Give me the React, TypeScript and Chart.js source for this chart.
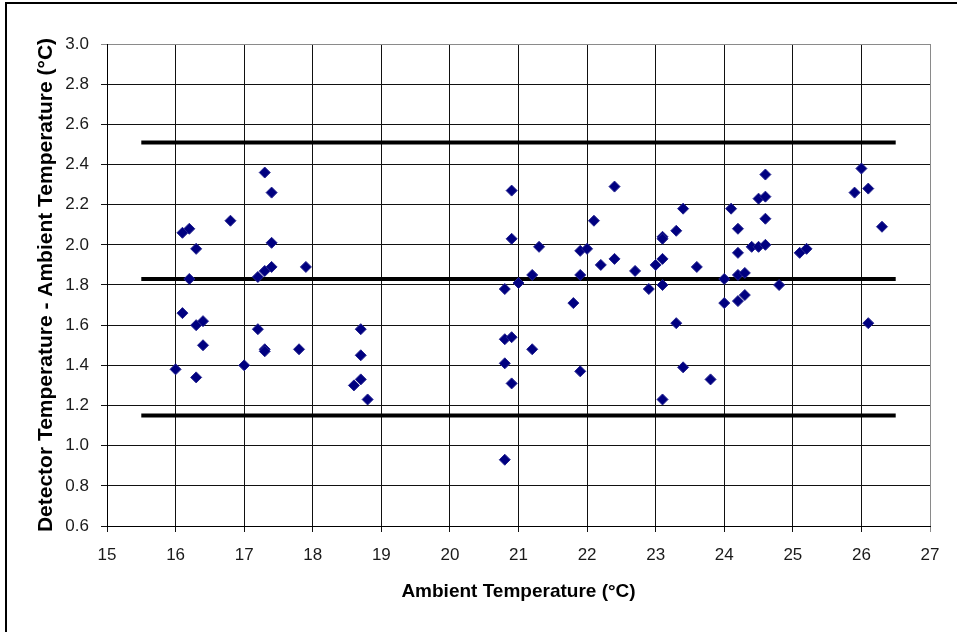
import React, { useEffect, useRef } from "react";
import { Chart, registerables } from "chart.js";

Chart.register(...registerables);

// Ambient temperature (°C) of each measurement
const ambientTemps: number[] = [
  16.0, 16.1, 16.1, 16.2, 16.2, 16.3, 16.3, 16.3, 16.4, 16.4, 16.8, 17.0, 17.2, 17.2,
  17.3, 17.3, 17.3, 17.3, 17.4, 17.4, 17.4, 17.8, 17.9,
  18.7, 18.7, 18.7, 18.6, 18.8,
  20.9, 22.4, 22.1, 20.9, 21.3, 21.9, 22.0, 22.4, 22.2, 22.7, 21.2, 21.9, 21.0, 20.8,
  22.9, 21.8, 20.8, 20.9, 21.2, 20.8, 20.9, 21.9, 20.8,
  23.0, 23.1, 23.1, 23.1, 23.1, 23.1, 23.3, 23.3, 23.4, 23.4, 23.6, 23.8, 24.0, 24.0,
  24.1, 24.2, 24.2, 24.2, 24.2, 24.3, 24.3, 24.4, 24.5, 24.5, 24.6, 24.6, 24.6, 24.6,
  24.8, 25.1, 25.2, 25.9, 26.0, 26.1, 26.1, 26.3,
];

// Detector minus ambient temperature (°C) of each measurement
const tempDiffs: number[] = [
  1.38, 2.06, 1.66, 2.08, 1.83, 1.98, 1.6, 1.34, 1.62, 1.5, 2.12, 1.4, 1.84, 1.58,
  2.36, 1.87, 1.48, 1.47, 2.26, 2.01, 1.89, 1.48, 1.89,
  1.58, 1.45, 1.33, 1.3, 1.23,
  2.27, 2.29, 2.12, 2.03, 1.99, 1.97, 1.98, 1.93, 1.9, 1.87, 1.85, 1.85, 1.81, 1.78,
  1.78, 1.71, 1.53, 1.54, 1.48, 1.41, 1.31, 1.37, 0.93,
  1.9, 2.04, 2.03, 1.93, 1.8, 1.23, 2.07, 1.61, 2.18, 1.39, 1.89, 1.33, 1.83, 1.71,
  2.18, 2.08, 1.96, 1.85, 1.72, 1.86, 1.75, 1.99, 1.99, 2.23, 2.24, 2.35, 2.13, 2.0,
  1.8, 1.96, 1.98, 2.26, 2.38, 2.28, 1.61, 2.09,
];

// Horizontal limit lines
const limitLineX: number[] = [15.5, 26.5];
const upperLimit = 2.51;
const meanLevel = 1.83;
const lowerLimit = 1.15;

// Axis ranges / ticks
const xTicks: number[] = [15, 16, 17, 18, 19, 20, 21, 22, 23, 24, 25, 26, 27];
const yTicks: number[] = [0.6, 0.8, 1.0, 1.2, 1.4, 1.6, 1.8, 2.0, 2.2, 2.4, 2.6, 2.8, 3.0];

const FONT = "'Liberation Sans', Arial, sans-serif";

export default function App() {
  const ref = useRef<HTMLCanvasElement | null>(null);

  useEffect(() => {
    document.body.style.margin = "0";
    const canvas = ref.current;
    if (!canvas) return;

    const points = ambientTemps.map((x, i) => ({ x, y: tempDiffs[i] }));
    const line = (v: number) => limitLineX.map((x) => ({ x, y: v }));

    const framePlugin = {
      id: "frame",
      beforeDraw(chart: any) {
        const c = chart.ctx;
        c.save();
        c.fillStyle = "#ffffff";
        c.fillRect(0, 0, chart.width, chart.height);
        c.fillStyle = "#000000";
        c.fillRect(5, 2, 2, chart.height - 2);
        c.fillRect(5, 2, chart.width - 5, 2);
        c.restore();
      },
    };

    const limitDs = (v: number) => ({
      data: line(v),
      showLine: true,
      borderColor: "#000000",
      borderWidth: 4,
      pointRadius: 0,
      order: 2,
    });

    const chart = new Chart(canvas, {
      type: "scatter",
      data: {
        datasets: [
          {
            data: points,
            pointStyle: "rectRot",
            pointRadius: 5.5,
            backgroundColor: "#000080",
            borderColor: "#23238f",
            borderWidth: 1,
            order: 0,
          } as any,
          limitDs(upperLimit) as any,
          limitDs(meanLevel) as any,
          limitDs(lowerLimit) as any,
        ],
      },
      options: {
        animation: false,
        responsive: false,
        events: [],
        layout: { padding: { top: 44, right: 27, left: 0, bottom: 0 } },
        plugins: { legend: { display: false }, tooltip: { enabled: false } },
        scales: {
          x: {
            type: "linear",
            min: xTicks[0],
            max: xTicks[xTicks.length - 1],
            afterBuildTicks: (s: any) => {
              s.ticks = xTicks.map((v) => ({ value: v }));
            },
            afterFit: (s: any) => {
              s.height = 106;
            },
            grid: {
              color: (c: any) => (c.tick && c.tick.value === 27 ? "#8a8a8a" : "#111111"),
              lineWidth: 1,
              tickLength: 6,
            },
            border: { color: "#000000", width: 1 },
            ticks: {
              color: "#1a1a1a",
              font: { family: FONT, size: 17 },
              padding: 13,
              maxRotation: 0,
            },
            title: {
              display: true,
              text: "Ambient Temperature (°C)",
              color: "#000000",
              font: { family: FONT, size: 19, weight: "bold" },
              padding: { top: 0, bottom: 29 },
            },
          },
          y: {
            type: "linear",
            min: yTicks[0],
            max: yTicks[yTicks.length - 1],
            afterBuildTicks: (s: any) => {
              s.ticks = yTicks.map((v) => ({ value: v }));
            },
            afterFit: (s: any) => {
              s.width = 107;
            },
            grid: {
              color: (c: any) => (c.tick && Math.abs(c.tick.value - 3.0) < 1e-6 ? "#8a8a8a" : "#111111"),
              lineWidth: 1,
              tickLength: 6,
            },
            border: { color: "#000000", width: 1 },
            ticks: {
              color: "#1a1a1a",
              font: { family: FONT, size: 17 },
              padding: 12,
              callback: (v: any) => Number(v).toFixed(1),
            },
            title: {
              display: true,
              text: "Detector Temperature - Ambient Temperature (°C)",
              color: "#000000",
              font: { family: FONT, size: 21, weight: "bold" },
              padding: { top: 34, bottom: 0 },
            },
          },
        },
      },
      plugins: [framePlugin],
    });

    return () => chart.destroy();
  }, []);

  return (
    <div style={{ width: 957, height: 632 }}>
      <canvas ref={ref} width={957} height={632} style={{ display: "block", width: 957, height: 632 }} />
    </div>
  );
}
